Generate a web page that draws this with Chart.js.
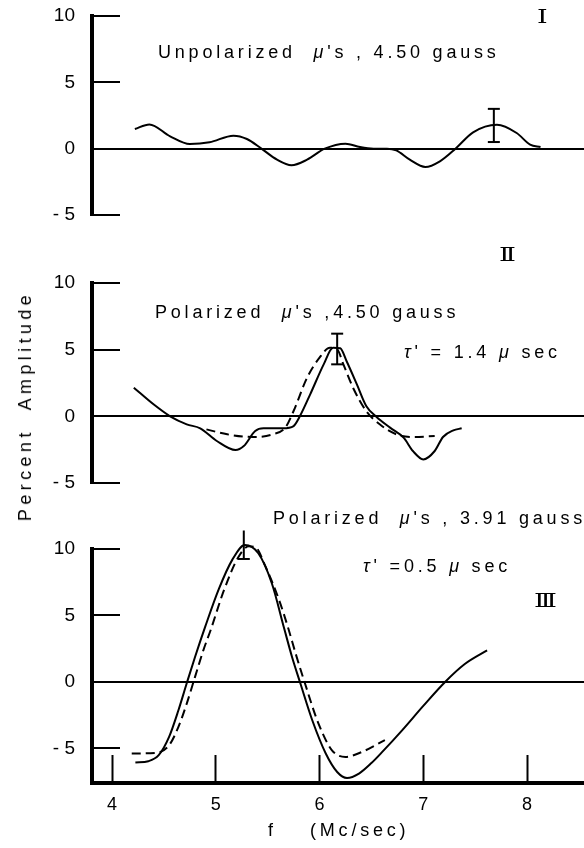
<!DOCTYPE html>
<html><head><meta charset="utf-8">
<script src="https://cdn.jsdelivr.net/npm/chart.js@4.4.1/dist/chart.umd.min.js"></script>
<style>
html,body{margin:0;padding:0;background:#fff;}
#wrap{position:relative;width:584px;height:848px;overflow:hidden;font-family:"Liberation Sans",Arial,sans-serif;color:#000;}
canvas{position:absolute;left:0;}
.t{position:absolute;white-space:pre;font-size:18px;line-height:1;letter-spacing:3.8px;}
.r{position:absolute;font-family:"DejaVu Serif",serif;font-size:18px;line-height:1;letter-spacing:-3px;transform:scaleX(1.5);transform-origin:left top;}
</style></head><body>
<div id="wrap">
<canvas id="c1" width="584" height="240" style="top:0px"></canvas>
<canvas id="c2" width="584" height="260" style="top:240px"></canvas>
<canvas id="c3" width="584" height="348" style="top:500px"></canvas>
<div class="t" style="left:158px;top:43px">Unpolarized  <i>μ</i>'s , 4.50 gauss</div>
<div class="t" style="left:155px;top:303px">Polarized  <i>μ</i>'s ,4.50 gauss</div>
<div class="t" style="left:404px;top:343px"><i>τ</i>' = 1.4 <i>μ</i> sec</div>
<div class="t" style="left:273px;top:509px">Polarized  <i>μ</i>'s , 3.91 gauss</div>
<div class="t" style="left:363px;top:557px"><i>τ</i>' =0.5 <i>μ</i> sec</div>
<div class="r" style="left:537px;top:8px">I</div>
<div class="r" style="left:499px;top:246px">II</div>
<div class="r" style="left:534px;top:592px">III</div>
<div class="t" style="left:25px;top:406px;transform:translate(-50%,-50%) rotate(-90deg);letter-spacing:4.4px;">Percent  Amplitude</div>
<div class="t" style="left:268px;top:821px">f</div>
<div class="t" style="left:310px;top:821px">(Mc/sec)</div>
</div>
<script>
// ---- data ----
const xTicks = [4, 5, 6, 7, 8];
const yTicks = [-5, 0, 5, 10];

// Panel I: unpolarized mu's, 4.50 gauss
const p1Freq = [4.22, 4.36, 4.56, 4.75, 4.94, 5.17, 5.30, 5.44, 5.59, 5.73, 5.88, 6.05, 6.25, 6.39, 6.52, 6.65, 6.74, 6.87, 7.02, 7.16, 7.31, 7.48, 7.71, 7.90, 8.03, 8.13];
const p1Amp  = [1.48, 1.83, 0.93, 0.35, 0.48, 0.98, 0.73, 0.0, -0.83, -1.25, -0.83, 0.0, 0.38, 0.12, 0.0, 0.0, -0.13, -0.83, -1.38, -0.95, 0.0, 1.23, 1.8, 1.18, 0.3, 0.12];
const p1ErrX = 7.68, p1ErrHi = 3.0, p1ErrLo = 0.5;

// Panel II: polarized mu's, 4.50 gauss
const p2Freq  = [4.21, 4.40, 4.56, 4.72, 4.85, 5.01, 5.19, 5.27, 5.38, 5.46, 5.65, 5.75, 5.81, 5.91, 6.04, 6.13, 6.20, 6.26, 6.36, 6.45, 6.55, 6.68, 6.81, 6.90, 7.00, 7.11, 7.19, 7.29, 7.37];
const p2Solid = [2.15, 0.9, 0.0, -0.6, -0.9, -1.85, -2.53, -2.23, -1.1, -0.9, -0.9, -0.73, 0.0, 1.65, 3.9, 5.15, 5.1, 4.15, 2.4, 0.78, -0.05, -0.85, -1.6, -2.6, -3.23, -2.6, -1.55, -1.05, -0.9];
const p2DashFreq = [4.91, 5.11, 5.36, 5.55, 5.67, 5.75, 5.88, 6.00, 6.10, 6.17, 6.23, 6.33, 6.45, 6.58, 6.74, 6.90, 7.11];
const p2Dashed   = [-0.98, -1.35, -1.55, -1.35, -0.85, 0.4, 2.9, 4.4, 5.15, 5.03, 3.9, 2.03, 0.4, -0.6, -1.35, -1.55, -1.48];
const p2ErrX = 6.17, p2ErrHi = 6.2, p2ErrLo = 3.9;

// Panel III: polarized mu's, 3.91 gauss
const p3Freq  = [4.225, 4.35, 4.45, 4.55, 4.64, 4.72, 4.80, 4.90, 5.03, 5.16, 5.28, 5.41, 5.54, 5.66, 5.735, 5.815, 5.93, 6.06, 6.17, 6.265, 6.38, 6.50, 6.60, 6.80, 7.00, 7.21, 7.40, 7.615];
const p3Solid = [-6.06, -5.96, -5.51, -4.13, -2.13, -0.1, 1.88, 4.2, 7.0, 9.2, 10.3, 9.68, 7.42, 4.0, 1.88, -0.1, -2.88, -5.38, -6.77, -7.22, -6.89, -6.1, -5.3, -3.6, -1.8, 0.0, 1.35, 2.38];
const p3DashFreq = [4.19, 4.42, 4.55, 4.64, 4.72, 4.80, 4.88, 4.95, 5.08, 5.22, 5.32, 5.38, 5.48, 5.61, 5.70, 5.77, 5.86, 5.99, 6.12, 6.25, 6.41, 6.63];
const p3Dashed   = [-5.38, -5.34, -4.76, -3.38, -1.63, 0.38, 2.38, 3.89, 6.92, 9.42, 10.2, 10.15, 8.67, 6.17, 4.0, 2.13, -0.12, -3.13, -5.14, -5.64, -5.26, -4.38];
const p3ErrX = 5.27, p3ErrHi = 11.4, p3ErrLo = 9.25;

// ---- helpers ----
const X_MIN = 3.807, X_MAX = 8.549;
const FONT = '"Liberation Sans", Arial, sans-serif';
const zip = (xs, ys) => xs.map((x, i) => ({ x: x, y: ys[i] }));

function solid(xs, ys) {
  return { data: zip(xs, ys), borderColor: '#000', borderWidth: 2, pointRadius: 0,
           cubicInterpolationMode: 'monotone', fill: false, clip: false };
}
function dashed(xs, ys) {
  return { data: zip(xs, ys), borderColor: '#000', borderWidth: 2, pointRadius: 0,
           borderDash: [9, 5], cubicInterpolationMode: 'monotone', fill: false, clip: false };
}
function errBar(x, hi, lo) {
  return { data: [{ x: x, y: hi }, { x: x, y: lo }], borderColor: '#000', borderWidth: 2,
           pointStyle: 'line', pointRadius: 6, pointBorderWidth: 2, pointBorderColor: '#000',
           tension: 0, fill: false, clip: false };
}

function options(yMin, yMax, padTop, padBottom, showX) {
  return {
    responsive: false, animation: false, devicePixelRatio: 1,
    layout: { padding: { top: padTop, bottom: padBottom, left: 0, right: 0 }, autoPadding: false },
    plugins: { legend: { display: false }, tooltip: { enabled: false } },
    scales: {
      x: {
        type: 'linear', min: X_MIN, max: X_MAX, display: showX, position: 'bottom',
        afterBuildTicks: s => { s.ticks = xTicks.map(v => ({ value: v })); },
        afterFit: s => { s.height = showX ? 65 : 0; s.paddingLeft = 0; s.paddingRight = 0; },
        grid: { drawOnChartArea: false, tickLength: -28, tickWidth: 2, tickColor: '#000', color: '#000' },
        border: { display: true, width: 4, color: '#000' },
        ticks: { padding: 39, color: '#000', font: { family: FONT, size: 18 } }
      },
      y: {
        type: 'linear', min: yMin, max: yMax,
        afterBuildTicks: s => { s.ticks = yTicks.map(v => ({ value: v })); },
        afterFit: s => { s.width = 92; s.paddingTop = 0; s.paddingBottom = 0; },
        grid: {
          tickLength: -28, tickWidth: 2, tickColor: '#000', lineWidth: 2,
          color: c => (c.tick && c.tick.value === 0) ? '#000' : 'rgba(0,0,0,0)'
        },
        border: { display: true, width: 4, color: '#000' },
        ticks: { padding: 45, color: '#000', font: { family: FONT, size: 19 },
                 callback: v => v < 0 ? '- ' + Math.abs(v) : String(v) }
      }
    }
  };
}

new Chart(document.getElementById('c1'), {
  type: 'line',
  data: { datasets: [solid(p1Freq, p1Amp), errBar(p1ErrX, p1ErrHi, p1ErrLo)] },
  options: options(-5, 10, 16, 25, false)
});
new Chart(document.getElementById('c2'), {
  type: 'line',
  data: { datasets: [solid(p2Freq, p2Solid), dashed(p2DashFreq, p2Dashed), errBar(p2ErrX, p2ErrHi, p2ErrLo)] },
  options: options(-5, 10, 43, 17, false)
});
new Chart(document.getElementById('c3'), {
  type: 'line',
  data: { datasets: [solid(p3Freq, p3Solid), dashed(p3DashFreq, p3Dashed), errBar(p3ErrX, p3ErrHi, p3ErrLo)] },
  options: options(-7.6, 10, 49, 0, true)
});
</script>
</body></html>
